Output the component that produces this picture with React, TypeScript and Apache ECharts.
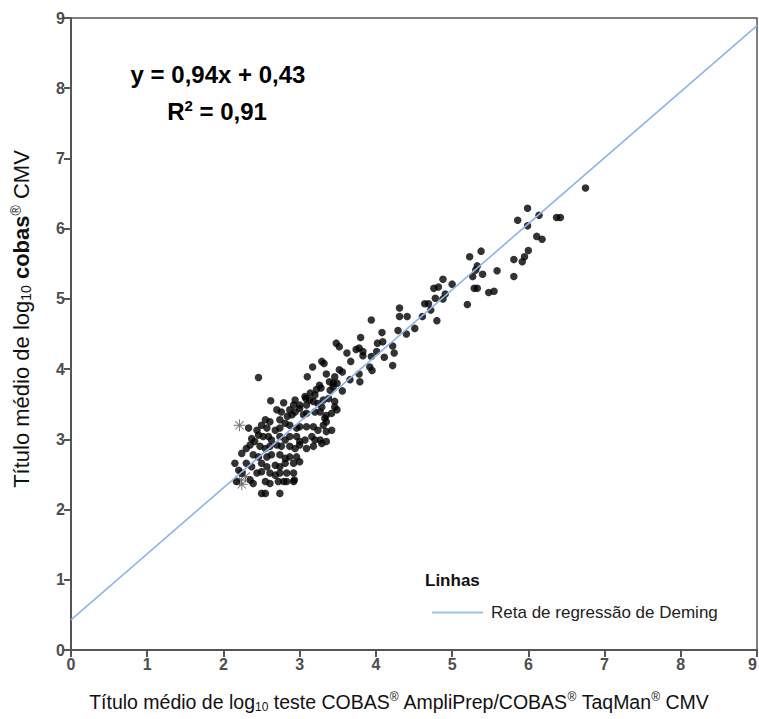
import React, { useEffect, useRef } from "react";
import * as echarts from "echarts";

const axisTicks = [0, 1, 2, 3, 4, 5, 6, 7, 8, 9];
const slope = 0.94;
const intercept = 0.43;
const lineName = "Reta de regressão de Deming";

const upperPoints = [[6.75,6.58],[5.99,6.29],[6.14,6.19],[5.86,6.12],[5.99,6.04],[6.37,6.16],[6.42,6.16],[6.11,5.89],[6.18,5.85],[6.00,5.69],[5.95,5.60],[5.92,5.53],[5.81,5.56],[5.81,5.32],[5.38,5.68],[5.23,5.60],[5.33,5.47],[5.31,5.41],[5.40,5.35],[5.27,5.32],[5.59,5.40],[5.29,5.15],[5.33,5.15],[5.48,5.09],[5.55,5.11],[5.20,4.92],[4.88,5.28],[5.00,5.21],[4.76,5.15],[4.82,5.17],[4.91,5.07],[4.78,5.01],[4.88,5.00],[4.64,4.93],[4.69,4.93],[4.72,4.84],[4.61,4.75],[4.80,4.69]];

const midPoints = [[4.31,4.87],[4.31,4.75],[4.41,4.75],[3.94,4.70],[4.51,4.58],[4.29,4.55],[4.40,4.50],[4.08,4.52],[3.80,4.45],[4.02,4.37],[4.09,4.39],[4.22,4.33],[3.48,4.37],[3.52,4.32],[3.74,4.28],[3.78,4.30],[3.83,4.25],[3.83,4.19],[3.62,4.23],[3.94,4.18],[4.01,4.25],[4.11,4.17],[4.24,4.23],[4.22,4.05],[3.92,4.03],[3.95,3.98],[3.67,4.11],[3.29,4.11],[3.32,4.08],[3.17,4.03],[3.52,3.99],[3.56,3.96],[3.35,3.93],[3.10,3.89],[3.78,3.93],[3.46,3.89],[3.66,3.85],[3.79,3.82],[3.39,3.82],[3.44,3.80],[3.49,3.80],[3.26,3.77],[3.22,3.71],[3.28,3.73],[3.56,3.69],[3.40,3.70],[3.44,3.75],[3.14,3.66],[3.20,3.63],[3.07,3.61],[3.31,3.56],[3.38,3.58],[3.46,3.54],[3.18,3.54],[3.24,3.51],[3.09,3.49],[3.29,3.46],[3.46,3.46],[3.00,3.49],[3.05,3.35],[3.09,3.37],[3.20,3.39],[3.27,3.39],[3.33,3.30]];

const clusterPoints = [[2.46,3.88],[2.62,3.55],[2.79,3.52],[2.94,3.56],[2.92,3.49],[3.08,3.58],[3.13,3.56],[2.70,3.42],[2.76,3.39],[2.87,3.42],[2.94,3.39],[3.00,3.44],[2.84,3.33],[2.90,3.35],[3.35,3.34],[3.42,3.37],[3.49,3.42],[2.55,3.28],[2.61,3.25],[2.74,3.28],[2.81,3.23],[2.87,3.20],[2.50,3.20],[2.57,3.16],[2.68,3.13],[2.74,3.16],[2.96,3.16],[3.00,3.18],[3.09,3.18],[3.18,3.18],[3.24,3.13],[3.31,3.20],[3.35,3.25],[2.44,3.13],[2.46,3.06],[2.33,3.16],[2.37,3.01],[2.41,2.97],[2.52,3.04],[2.59,3.04],[2.63,2.99],[2.74,3.04],[2.81,2.99],[2.87,3.04],[2.96,3.04],[3.00,2.97],[3.07,2.99],[3.16,3.04],[3.20,2.99],[3.27,2.99],[3.35,3.11],[3.42,3.13],[2.30,2.87],[2.35,2.92],[2.48,2.90],[2.55,2.87],[2.61,2.90],[2.70,2.92],[2.76,2.90],[2.87,2.90],[2.94,2.87],[3.00,2.92],[3.09,2.87],[3.18,2.90],[3.29,2.94],[3.35,2.97],[2.24,2.80],[2.39,2.78],[2.46,2.75],[2.57,2.75],[2.63,2.78],[2.74,2.78],[2.81,2.73],[2.87,2.75],[2.96,2.75],[3.00,2.68],[2.15,2.66],[2.30,2.66],[2.37,2.61],[2.50,2.66],[2.57,2.61],[2.68,2.63],[2.74,2.61],[2.81,2.66],[2.92,2.66],[2.20,2.56],[2.24,2.52],[2.44,2.52],[2.50,2.54],[2.61,2.52],[2.68,2.49],[2.74,2.52],[2.83,2.52],[2.92,2.52],[2.93,2.42],[2.17,2.40],[2.35,2.42],[2.39,2.37],[2.55,2.40],[2.61,2.37],[2.72,2.40],[2.79,2.40],[2.83,2.40],[2.92,2.40],[2.50,2.23],[2.55,2.23],[2.74,2.23]];

const asteriskPoints = [[2.21,3.20],[2.24,2.36],[2.29,2.47],[2.21,2.42]];

const ASTERISK =
  "path://M4.6,0h0.8v10h-0.8z M0,4.6h10v0.8h-10z M1.2,1.77L1.77,1.2L8.8,8.23L8.23,8.8Z M8.23,1.2L8.8,1.77L1.77,8.8L1.2,8.23Z";

const FONT = "'Liberation Sans', Arial, sans-serif";

export default function App() {
  const ref = useRef<HTMLDivElement>(null);
  useEffect(() => {
    if (!ref.current) return;
    const chart = echarts.init(ref.current, undefined, { renderer: "svg" });
    const xMin = axisTicks[0];
    const xMax = axisTicks[axisTicks.length - 1];
    const axisCommon = {
      type: "value",
      min: xMin,
      max: xMax,
      interval: 1,
      splitLine: { show: false },
      axisLine: { show: true, onZero: false, lineStyle: { color: "#555", width: 2 } },
      axisTick: { show: true, inside: false, length: 7, lineStyle: { color: "#555", width: 2 } },
      axisLabel: { color: "#4d4d4d", fontSize: 16, fontWeight: "bold", fontFamily: FONT },
    };
    const richTitle = {
      sub: { fontSize: 12, lineHeight: 12, verticalAlign: "bottom", color: "#111", fontFamily: FONT },
      sup: { fontSize: 12, lineHeight: 12, verticalAlign: "top", color: "#111", fontFamily: FONT },
    };
    chart.setOption({
      animation: false,
      grid: {
        left: 71,
        right: 2,
        top: 18,
        bottom: 69,
        outerBoundsMode: "none",
        containLabel: false,
        show: true,
        borderColor: "#555",
        borderWidth: 1.5,
      },
      legend: {
        data: [{ name: lineName, icon: "rect" }],
        left: 432,
        top: 604,
        padding: 0,
        itemWidth: 51,
        itemHeight: 2,
        textStyle: { fontSize: 17, color: "#222", fontFamily: FONT, padding: [0, 0, 0, 3] },
      },
      xAxis: {
        ...axisCommon,
        axisLabel: { ...axisCommon.axisLabel, margin: 6, alignMaxLabel: "right" },
        name: "Título médio de log{sub|10} teste COBAS{sup|®} AmpliPrep/COBAS{sup|®} TaqMan{sup|®} CMV",
        nameLocation: "middle",
        nameGap: 41,
        nameTextStyle: {
          fontSize: 19.5,
          color: "#111",
          fontFamily: FONT,
          lineHeight: 22,
          padding: [0, 30, 0, 0],
          rich: richTitle,
        },
      },
      yAxis: {
        ...axisCommon,
        axisLabel: { ...axisCommon.axisLabel, margin: 6 },
        name: "Título médio de log{sub|10} {b|cobas}{sup|®} CMV",
        nameLocation: "middle",
        nameGap: 38,
        nameTextStyle: {
          fontSize: 22,
          color: "#111",
          fontFamily: FONT,
          lineHeight: 24,
          padding: [0, 0, 0, 30],
          rich: {
            sub: { ...richTitle.sub, fontSize: 14, lineHeight: 14 },
            sup: { ...richTitle.sup, fontSize: 14, lineHeight: 14 },
            b: { fontSize: 22, fontWeight: "bold", color: "#111", fontFamily: FONT },
          },
        },
      },
      graphic: [
        {
          type: "text",
          x: 218,
          y: 74,
          style: {
            text: "y = 0,94x + 0,43",
            fontSize: 24,
            fontWeight: "bold",
            fontFamily: FONT,
            fill: "#000",
            align: "center",
            verticalAlign: "middle",
          },
        },
        {
          type: "text",
          x: 217,
          y: 111,
          style: {
            text: "{r|R}{s|2}{r| = 0,91}",
            align: "center",
            verticalAlign: "middle",
            rich: {
              r: { fontSize: 24, fontWeight: "bold", fontFamily: FONT, fill: "#000", lineHeight: 26 },
              s: { fontSize: 15, fontWeight: "bold", fontFamily: FONT, fill: "#000", lineHeight: 15, verticalAlign: "top" },
            },
          },
        },
        {
          type: "text",
          x: 425,
          y: 580,
          style: {
            text: "Linhas",
            fontSize: 17,
            fontWeight: "bold",
            fontFamily: FONT,
            fill: "#111",
            align: "left",
            verticalAlign: "middle",
          },
        },
      ],
      series: [
        {
          name: lineName,
          type: "line",
          data: [
            [xMin, slope * xMin + intercept],
            [xMax, slope * xMax + intercept],
          ],
          showSymbol: false,
          symbol: "none",
          lineStyle: { color: "#8fb3ea", width: 1.6 },
          itemStyle: { color: "#9cc4e8" },
          z: 3,
        },
        {
          name: "Amostras",
          type: "scatter",
          data: [...upperPoints, ...midPoints, ...clusterPoints],
          symbol: "circle",
          symbolSize: 7.5,
          itemStyle: { color: "#000" },
          z: 2,
        },
        {
          name: "Outros",
          type: "scatter",
          data: asteriskPoints,
          symbol: ASTERISK,
          symbolSize: 12,
          itemStyle: { color: "#555" },
          z: 1,
        },
      ],
    });
    return () => chart.dispose();
  }, []);
  return (
    <div
      ref={ref}
      style={{ position: "fixed", left: 0, top: 0, width: 759, height: 719, background: "#fff" }}
    />
  );
}
